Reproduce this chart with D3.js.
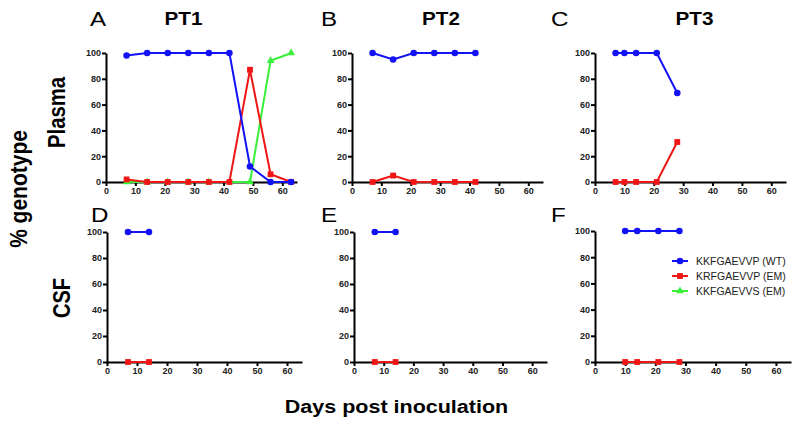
<!DOCTYPE html>
<html>
<head>
<meta charset="utf-8">
<script src="https://cdn.jsdelivr.net/npm/d3@7"></script>
<style>
  body { margin: 0; background: #fff; }
  svg { font-family: 'Liberation Sans', Arial, sans-serif; }
  .tick text { font-weight: bold; font-size: 9px; fill: #222; }
</style>
</head>
<body>
<svg id="chart" width="800" height="427"></svg>
<script>
// values (days post inoculation, % genotype)
const pt1Days = [7, 14, 21, 28, 35, 42, 49, 56, 63]
const pt1PlasmaWT = [98, 100, 100, 100, 100, 100, 12, 0, 0]
const pt1PlasmaKR = [2, 0, 0, 0, 0, 0, 87, 6, 0]
const pt1PlasmaVS = [0, 0, 0, 0, 0, 0, 0, 94, 100]

const pt2Days = [7, 14, 21, 28, 35, 42]
const pt2PlasmaWT = [100, 95, 100, 100, 100, 100]
const pt2PlasmaKR = [0, 5, 0, 0, 0, 0]

const pt3Days = [7, 10, 14, 21, 28]
const pt3PlasmaWT = [100, 100, 100, 100, 69]
const pt3PlasmaKR = [0, 0, 0, 0, 31]

const pt1CsfDays = [7, 14]
const pt1CsfWT = [100, 100]
const pt1CsfKR = [0, 0]
const pt2CsfDays = [7, 14]
const pt2CsfWT = [100, 100]
const pt2CsfKR = [0, 0]
const pt3CsfDays = [10, 14, 21, 28]
const pt3CsfWT = [100, 100, 100, 100]
const pt3CsfKR = [0, 0, 0, 0]

const xTicks = [0, 10, 20, 30, 40, 50, 60]
const yTicks = [0, 20, 40, 60, 80, 100]
const legendLabels = ['KKFGAEVVP (WT)', 'KRFGAEVVP (EM)', 'KKFGAEVVS (EM)']

const colors = { WT: '#1212f5', KR: '#f01616', VS: '#3af03a' }
const symbols = { WT: d3.symbolCircle, KR: d3.symbolSquare, VS: d3.symbolTriangle }
const symSize = { WT: 34, KR: 34, VS: 26 }

const svg = d3.select('#chart')

function zip (days, vals) {
  return days.map((d, i) => ({ day: d, v: vals[i] }))
}

function drawPanel (left, top, bottom, width, series) {
  const x = d3.scaleLinear().domain([0, 65]).range([left, left + width])
  const y = d3.scaleLinear().domain([0, 100]).range([bottom, top])
  const g = svg.append('g')

  g.append('g')
    .attr('transform', 'translate(0,' + bottom + ')')
    .call(d3.axisBottom(x).tickValues(xTicks).tickSize(4).tickSizeOuter(0).tickPadding(2))
  g.append('g')
    .attr('transform', 'translate(' + left + ',0)')
    .call(d3.axisLeft(y).tickValues(yTicks).tickSize(4).tickSizeOuter(0).tickPadding(1))
  g.selectAll('.domain, .tick line').attr('stroke', '#000').attr('stroke-width', 2)

  const line = d3.line().x(d => x(d.day)).y(d => y(d.v))
  // green first, then red, blue on top
  series.forEach(s => {
    const pts = zip(s.days, s.vals)
    g.append('path')
      .datum(pts)
      .attr('fill', 'none')
      .attr('stroke', colors[s.key])
      .attr('stroke-width', 2)
      .attr('d', line)
    g.selectAll(null)
      .data(pts)
      .enter()
      .append('path')
      .attr('transform', d => 'translate(' + x(d.day) + ',' + y(d.v) + ')')
      .attr('d', d3.symbol().type(symbols[s.key]).size(symSize[s.key]))
      .attr('fill', colors[s.key])
  })
}

drawPanel(106, 53, 182, 191, [
  { key: 'VS', days: pt1Days, vals: pt1PlasmaVS },
  { key: 'KR', days: pt1Days, vals: pt1PlasmaKR },
  { key: 'WT', days: pt1Days, vals: pt1PlasmaWT }
])
drawPanel(352, 53, 182, 191, [
  { key: 'KR', days: pt2Days, vals: pt2PlasmaKR },
  { key: 'WT', days: pt2Days, vals: pt2PlasmaWT }
])
drawPanel(595, 53, 182, 191, [
  { key: 'KR', days: pt3Days, vals: pt3PlasmaKR },
  { key: 'WT', days: pt3Days, vals: pt3PlasmaWT }
])
drawPanel(107, 232, 362, 195, [
  { key: 'KR', days: pt1CsfDays, vals: pt1CsfKR },
  { key: 'WT', days: pt1CsfDays, vals: pt1CsfWT }
])
drawPanel(354, 232, 362, 193, [
  { key: 'KR', days: pt2CsfDays, vals: pt2CsfKR },
  { key: 'WT', days: pt2CsfDays, vals: pt2CsfWT }
])
drawPanel(595, 231, 362, 196, [
  { key: 'KR', days: pt3CsfDays, vals: pt3CsfKR },
  { key: 'WT', days: pt3CsfDays, vals: pt3CsfWT }
])

// panel letters and titles
const letters = [
  ['A', 90, 26], ['B', 321, 26], ['C', 551, 26],
  ['D', 91, 222], ['E', 321, 222], ['F', 551, 222]
]
letters.forEach(l => {
  svg.append('text')
    .attr('transform', 'translate(' + l[1] + ',' + l[2] + ') scale(1.15,1)')
    .attr('font-size', 21)
    .text(l[0])
})
const titles = [['PT1', 183.5], ['PT2', 441], ['PT3', 694.5]]
titles.forEach(t => {
  svg.append('text')
    .attr('transform', 'translate(' + t[1] + ',25) scale(1.15,1)')
    .attr('text-anchor', 'middle')
    .attr('font-weight', 'bold')
    .attr('font-size', 18)
    .text(t[0])
})

// row and axis labels
function vLabel (txt, x, y, size) {
  svg.append('text')
    .attr('transform', 'translate(' + x + ',' + y + ') scale(1.15,1) rotate(-90)')
    .attr('text-anchor', 'middle')
    .attr('font-weight', 'bold')
    .attr('font-size', size)
    .text(txt)
}
vLabel('Plasma', 65, 112.5, 20.3)
vLabel('CSF', 70, 298, 20)
vLabel('% genotype', 27, 189, 21)

svg.append('text')
  .attr('transform', 'translate(396.5,413) scale(1.15,1)')
  .attr('text-anchor', 'middle')
  .attr('font-weight', 'bold')
  .attr('font-size', 18.7)
  .text('Days post inoculation')

// legend in panel F
const legendKeys = ['WT', 'KR', 'VS']
const legend = svg.append('g').attr('transform', 'translate(672,261)')
legendKeys.forEach((k, i) => {
  const row = legend.append('g').attr('transform', 'translate(0,' + i * 15 + ')')
  row.append('line')
    .attr('x1', 0).attr('x2', 16)
    .attr('stroke', colors[k]).attr('stroke-width', 2)
  row.append('path')
    .attr('transform', 'translate(8,0)')
    .attr('d', d3.symbol().type(symbols[k]).size(symSize[k]))
    .attr('fill', colors[k])
  row.append('text')
    .attr('transform', 'translate(24,3.5) scale(1.05,1)')
    .attr('font-size', 10)
    .attr('fill', '#222')
    .text(legendLabels[i])
})
</script>
</body>
</html>
